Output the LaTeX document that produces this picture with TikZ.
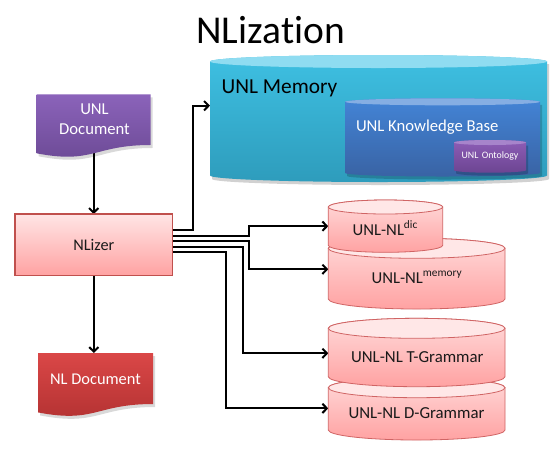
\documentclass[tikz,border=0pt]{standalone}
\usepackage{fontspec}
\setmainfont{Carlito}[Ligatures={NoCommon}]
\usetikzlibrary{arrows.meta,calc}
\definecolor{memtop}{HTML}{8FDCF1}
\definecolor{memhi}{HTML}{3EC0E2}
\definecolor{memlo}{HTML}{2E9CBC}
\definecolor{kbtop}{HTML}{85AEE3}
\definecolor{kbhi}{HTML}{4384D6}
\definecolor{kblo}{HTML}{3963A4}
\definecolor{ontop}{HTML}{A784CB}
\definecolor{onhi}{HTML}{8D5DB6}
\definecolor{onlo}{HTML}{6C4592}
\definecolor{udhi}{HTML}{8B63BA}
\definecolor{udlo}{HTML}{6B4994}
\definecolor{ndhi}{HTML}{DA4747}
\definecolor{ndlo}{HTML}{B23131}
\definecolor{pktop}{HTML}{FFE7E7}
\definecolor{pkhi}{HTML}{FFDADA}
\definecolor{pklo}{HTML}{FFA2A2}
\definecolor{pkline}{HTML}{D06464}
\definecolor{nlline}{HTML}{C0504D}
\definecolor{txt}{HTML}{1A1A1A}
\newcommand{\drawcyl}[9]{%
  \pgfmathsetmacro{\cylrx}{(#2-#1)/2}%
  \pgfmathsetmacro{\cylcx}{(#1+#2)/2}%
  \pgfmathsetmacro{\cylty}{#3+#5}%
  \pgfmathsetmacro{\cylby}{#4-#5}%
  \shade[top color=#7,bottom color=#8,draw=#9,line width=0.6pt]
    (#1,\cylty) -- (#1,\cylby) arc[start angle=180,end angle=0,x radius=\cylrx,y radius=#5]
    -- (#2,\cylty) arc[start angle=0,end angle=-180,x radius=\cylrx,y radius=#5] -- cycle;
  \filldraw[fill=#6,draw=#9,line width=0.6pt] (\cylcx,\cylty) ellipse[x radius=\cylrx,y radius=#5];
}
\newcommand{\cylshadow}[5]{%
  \pgfmathsetmacro{\cylrx}{(#2-#1)/2}%
  \pgfmathsetmacro{\cylty}{#3+#5}%
  \pgfmathsetmacro{\cylby}{#4-#5}%
  \fill[black,opacity=0.18]
    (#1+2,\cylty+3) -- (#1+2,\cylby+3) arc[start angle=180,end angle=0,x radius=\cylrx,y radius=#5]
    -- (#2+2,\cylty+3) -- cycle;
}
\newcommand{\docshape}[6]{%
  \pgfmathsetmacro{\dxa}{#1+#3}%
  \pgfmathsetmacro{\dxm}{#1+0.5*#3}%
  \pgfmathsetmacro{\dya}{#2+0.802*#4}%
  \pgfmathsetmacro{\dyb}{#2+1.1075*#4}%
  \pgfmathsetmacro{\dyc}{#2+0.934*#4}%
  \fill[black,opacity=0.15] (#1+2,#2+3) -- (\dxa+2,#2+3) -- (\dxa+2,\dya+3) .. controls (\dxm+2,\dya+3) and (\dxm+2,\dyb+3) .. (#1+2,\dyc+3) -- cycle;
  \shade[top color=#5,bottom color=#6] (#1,#2) -- (\dxa,#2) -- (\dxa,\dya) .. controls (\dxm,\dya) and (\dxm,\dyb) .. (#1,\dyc) -- cycle;
}
\newcommand{\mysup}[1]{\raisebox{0.42em}{\fontsize{8.5}{10}\selectfont #1}}
\tikzset{
  pxbox/.style 2 args={rectangle,draw=none,inner sep=0pt,outer sep=0pt,minimum width=#1*0.75pt,minimum height=#2*0.75pt},
  lbl/.style={inner sep=0pt,outer sep=0pt,text=txt},
  conn/.style={line width=1.6pt,draw=black,-{Straight Barb[length=3.4pt,width=7pt,line width=1.5pt]}},
}
\begin{document}
\begin{tikzpicture}[x=0.75pt,y=-0.75pt]
\useasboundingbox (0,0) rectangle (559,451);
\fill[white] (0,0) rectangle (559,451);
% invisible named boxes
\node[pxbox={114}{59}] (unldoc) at (93.7,123.8) {};
\node[pxbox={157.7}{61.7}] (nlizer) at (93.85,244.85) {};
\node[pxbox={115}{59.3}] (nldoc) at (95.5,382.65) {};
\node[pxbox={337}{127}] (unlmem) at (378.5,118.5) {};
\node[pxbox={195}{78.2}] (kb) at (442.5,137.4) {};
\node[pxbox={72}{32.7}] (onto) at (490,156.35) {};
\node[pxbox={114.4}{52.3}] (dic) at (385.5,226.15) {};
\node[pxbox={176.7}{70.7}] (mem) at (416.65,273.65) {};
\node[pxbox={176.7}{68.4}] (tg) at (416.65,352.5) {};
\node[pxbox={176.7}{62.3}] (dg) at (416.65,408.85) {};
% connectors
\draw[conn] (unldoc.center) -- (unldoc.center |- nlizer.north);
\draw[conn] (nlizer.south) -- (nlizer.south |- nldoc.north);
\draw[conn] ($(nlizer.east)+(0,-14.85)$) -- ++(20.6,0) |- ($(unlmem.west)+(0,-12.8)$);
\draw[conn] ($(nlizer.east)+(0,-9.15)$) -- ++(76.6,0) |- (dic.west);
\draw[conn] ($(nlizer.east)+(0,-3.85)$) -- ++(76.6,0) |- ($(mem.west)+(0,-4.35)$);
\draw[conn] ($(nlizer.east)+(0,1.85)$) -- ++(70.6,0) |- ($(tg.west)+(0,0.8)$);
\draw[conn] ($(nlizer.east)+(0,6.85)$) -- ++(53,0) |- ($(dg.west)+(0,-0.5)$);
% top cylinders
\cylshadow{210}{547}{55}{182}{6}
\drawcyl{210}{547}{55}{182}{6.5}{memtop}{memhi}{memlo}{none}
\cylshadow{345}{540}{98.3}{176.5}{3.5}
\drawcyl{345}{540}{98.3}{176.5}{3.5}{kbtop}{kbhi}{kblo}{none}
\cylshadow{454}{526}{140}{172.7}{2.5}
\drawcyl{454}{526}{140}{172.7}{2.5}{ontop}{onhi}{onlo}{none}
% documents
\docshape{36.7}{94.3}{114}{63.2}{udhi}{udlo}
\docshape{38}{353}{115}{63.6}{ndhi}{ndlo}
% NLizer
\shade[top color=pkhi!70!white,bottom color=pklo,draw=nlline,line width=0.8pt] (nlizer.north west) rectangle (nlizer.south east);
% pink cylinders
\drawcyl{328.3}{505}{238.3}{309}{10}{pktop}{pkhi}{pklo}{pkline}
\drawcyl{328.3}{442.7}{200}{252.3}{7}{pktop}{pkhi}{pklo}{pkline}
\drawcyl{328.3}{505}{377.7}{440}{10}{pktop}{pkhi}{pklo}{pkline}
\drawcyl{328.3}{505}{318.3}{386.7}{10}{pktop}{pkhi}{pklo}{pkline}
% texts
\node[lbl,anchor=base,font=\fontsize{29.6}{34}\selectfont,text=black] (title) at (270.7,43.3) {NLization};
\node[lbl,anchor=base west,font=\fontsize{16}{19}\selectfont,text=black] (unlmemt) at (221.7,93.3) {UNL Memory};
\node[lbl,anchor=base west,font=\fontsize{12.5}{15}\selectfont,text=white] (kbt) at (356,131) {UNL Knowledge Base};
\node[lbl,font=\fontsize{7.4}{9}\selectfont,text=white] (ontot) at (onto.center) {UNL\,\,Ontology};
\node[lbl,align=center,font=\fontsize{12.5}{15}\selectfont,text=white] (unldoct) at (94.5,119) {UNL\\Document};
\node[lbl,font=\fontsize{12.2}{14}\selectfont] (nlizert) at (nlizer.center) {NLizer};
\node[lbl,font=\fontsize{12.3}{14}\selectfont,text=white] (nldoct) at (95.5,379) {NL Document};
\node[lbl,anchor=base,font=\fontsize{12.5}{14}\selectfont] (dict) at (385,235) {UNL-NL\mysup{dic}};
\node[lbl,anchor=base,font=\fontsize{12.5}{14}\selectfont] (memt) at (416.7,283) {UNL-NL\mysup{memory}};
\node[lbl,font=\fontsize{12.6}{14}\selectfont] (tgt) at (417.3,356.7) {UNL-NL T-Grammar};
\node[lbl,font=\fontsize{12.6}{14}\selectfont] (dgt) at (416.5,412.7) {UNL-NL D-Grammar};
\end{tikzpicture}
\end{document}
